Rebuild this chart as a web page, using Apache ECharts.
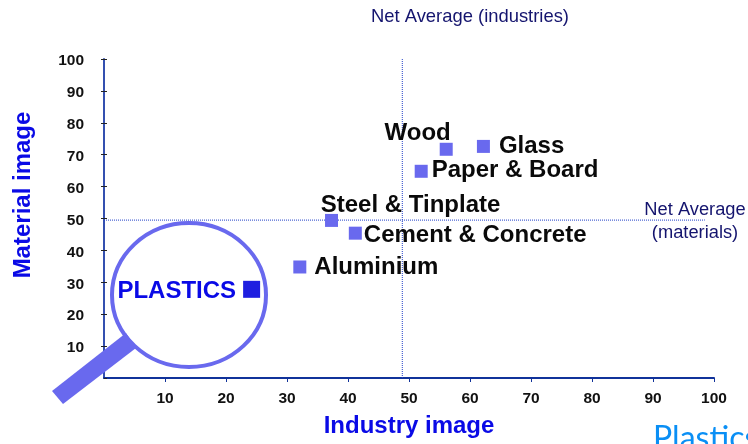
<!DOCTYPE html>
<html><head><meta charset="utf-8">
<style>html,body{margin:0;padding:0;background:#fff}#c{width:748px;height:444px}</style>
<script src="https://cdn.jsdelivr.net/npm/echarts@6/dist/echarts.min.js"></script></head>
<body><div id="c"></div>
<script>
const materials = ['Wood','Glass','Paper & Board','Steel & Tinplate','Cement & Concrete','Aluminium'];
const industryImage = [56.1,62.2,52.0,37.3,41.2,32.1];
const materialImage = [71.7,72.6,64.8,49.4,45.4,34.8];
const plasticsName = 'PLASTICS';
const plasticsPoint = [24.2,27.8];
const netAverageIndustry = 48.9;
const netAverageMaterial = 49.5;
const avgLineEndX = 98.5;
const axisMax = 100;
const F = '"Liberation Sans", Arial, sans-serif';
const labelPlace = {
  'Wood':{position:'left',offset:[16,-16]},
  'Glass':{position:'right',offset:[4,0]},
  'Paper & Board':{position:'right',offset:[-1,-1]},
  'Steel & Tinplate':{position:'top',offset:[79,8]},
  'Cement & Concrete':{position:'right',offset:[-3,2]},
  'Aluminium':{position:'right',offset:[3,0]}
};
const dotted = {color:'#2040c8',width:1,type:[1,1],opacity:1};
const chart = echarts.init(document.getElementById('c'),null,{renderer:'canvas'});
chart.setOption({
  animation:false,
  backgroundColor:'#fff',
  grid:{left:104,top:59,width:610,height:319,containLabel:false},
  xAxis:{type:'value',min:0,max:axisMax,interval:10,name:'Industry image',nameLocation:'middle',nameGap:36,
    nameTextStyle:{fontFamily:F,fontWeight:'bold',fontSize:24,color:'#0a0ae6'},
    axisLine:{onZero:false,lineStyle:{color:'#10329a',width:2}},
    axisTick:{show:true,length:4,lineStyle:{color:'#10329a',width:1}},
    splitLine:{show:false},
    axisLabel:{showMinLabel:false,fontFamily:F,fontWeight:'bold',fontSize:15.5,color:'#111',margin:13}},
  yAxis:[
   {type:'value',min:0,max:axisMax,interval:10,
    axisLine:{onZero:false,lineStyle:{color:'#3450b0',width:2}},
    axisTick:{show:true,length:3,lineStyle:{color:'#222',width:1}},
    splitLine:{show:false},
    axisLabel:{showMinLabel:false,fontFamily:F,fontWeight:'bold',fontSize:15.5,color:'#111',margin:20,verticalAlign:'top',lineHeight:4}},
   {type:'value',min:0,max:axisMax,interval:10,position:'left',
    axisLine:{show:false,onZero:false},
    axisTick:{show:true,inside:true,length:3,lineStyle:{color:'#222',width:1}},
    splitLine:{show:false},axisLabel:{show:false}}
  ],
  series:[
    {type:'line',silent:true,symbol:'none',z:1,lineStyle:dotted,
      data:[[netAverageIndustry,0],[netAverageIndustry,axisMax]]},
    {type:'line',silent:true,symbol:'none',z:1,lineStyle:dotted,
      data:[[0,netAverageMaterial],[avgLineEndX,netAverageMaterial]]},
    {type:'scatter',symbol:'rect',symbolSize:13,z:3,itemStyle:{color:'#6969ee',opacity:1},
      data:materials.map((n,i)=>({name:n,value:[industryImage[i],materialImage[i]],
        label:Object.assign({show:true,formatter:n,fontFamily:F,fontWeight:'bold',fontSize:24,color:'#0a0a0a',opacity:1},labelPlace[n])}))},
    {type:'scatter',symbol:'rect',symbolSize:17,z:6,itemStyle:{color:'#1e1ee0',opacity:1},
      data:[{name:plasticsName,value:plasticsPoint,
        label:{show:true,position:'left',offset:[-2,2],formatter:plasticsName,fontFamily:F,fontWeight:'bold',fontSize:24,color:'#0a0ae6',opacity:1}}]}
  ],
  graphic:[
    {type:'ellipse',z:4,shape:{cx:189,cy:295,rx:77,ry:72},style:{fill:'#fff',stroke:'#6969ee',lineWidth:4}},
    {type:'polygon',z:5,shape:{points:[[52,391],[63,404],[136,348],[126,333]]},style:{fill:'#6969ee'}},
    {type:'text',z:7,x:371,y:8,style:{text:'Net Average (industries)',font:'18.4px '+F,fill:'#14146e'}},
    {type:'text',z:7,x:695,y:198,style:{text:'Net Average\n(materials)',font:'18.3px '+F,fill:'#14146e',align:'center',lineHeight:23}},
    {type:'text',z:7,x:23,y:195,rotation:Math.PI/2,style:{text:'Material image',font:'bold 24px '+F,fill:'#0a0ae6',align:'center',verticalAlign:'middle'}},
    {type:'text',z:7,x:653,y:423,style:{text:'Plastics',font:'32px Lato, sans-serif',fill:'#0a8ff5'}}
  ]
});
</script></body></html>
